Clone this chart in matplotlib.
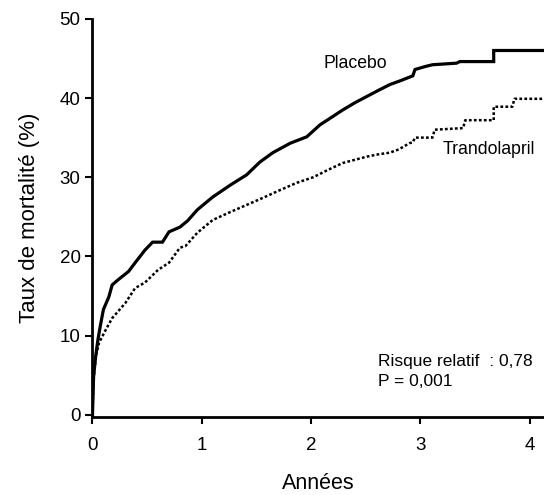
import matplotlib
matplotlib.use("Agg")
import matplotlib.pyplot as plt

# Data (years, cumulative mortality %)
placebo_t = [0, 0.005, 0.01, 0.03, 0.05, 0.07, 0.10, 0.15, 0.18, 0.23, 0.33, 0.39, 0.48,
             0.55, 0.64, 0.70, 0.80, 0.87, 0.96, 1.10, 1.26, 1.41, 1.53, 1.65, 1.81, 1.96,
             2.08, 2.18, 2.29, 2.40, 2.51, 2.62, 2.72, 2.82, 2.93, 2.95, 3.05, 3.11, 3.33,
             3.36, 3.67, 3.67, 4.13]
placebo_y = [0, 2.5, 4.8, 7.5, 9.5, 11.1, 13.3, 14.9, 16.4, 17.0, 18.1, 19.2, 20.8,
             21.8, 21.8, 23.1, 23.7, 24.5, 25.9, 27.5, 29.0, 30.3, 31.9, 33.1, 34.3, 35.1,
             36.6, 37.5, 38.5, 39.4, 40.2, 41.0, 41.7, 42.2, 42.8, 43.6, 44.0, 44.2, 44.4,
             44.6, 44.6, 46.0, 46.0]

trando_t = [0, 0.005, 0.01, 0.03, 0.06, 0.12, 0.18, 0.30, 0.39, 0.48, 0.60, 0.70, 0.80,
            0.85, 0.96, 1.10, 1.26, 1.41, 1.56, 1.72, 1.87, 2.02, 2.15, 2.29, 2.40, 2.51,
            2.62, 2.72, 2.80, 2.90, 2.93, 2.95, 3.11, 3.13, 3.39, 3.41, 3.67, 3.67, 3.84,
            3.86, 4.13]
trando_y = [0, 2.5, 4.5, 7.3, 9.1, 10.7, 12.2, 14.1, 16.0, 16.7, 18.3, 19.2, 21.1,
            21.3, 23.0, 24.6, 25.6, 26.5, 27.4, 28.4, 29.3, 30.0, 30.9, 31.8, 32.2, 32.6,
            32.9, 33.1, 33.5, 34.3, 34.4, 35.0, 35.0, 36.0, 36.2, 37.2, 37.2, 38.9, 38.9,
            39.9, 39.9]

x_ticks = [0, 1, 2, 3, 4]
y_ticks = [0, 10, 20, 30, 40, 50]

plt.rcParams['font.family'] = ['Liberation Sans', 'DejaVu Sans']

fig = plt.figure(figsize=(5.44, 4.95), dpi=100)
ax = fig.add_axes([0.169, 0.158, 0.831, 0.804])

ax.plot(placebo_t, placebo_y, color='black', lw=2.3, solid_joinstyle='miter')
ax.plot(trando_t, trando_y, color='black', lw=1.8, linestyle=(0, (1.1, 0.9)))

ax.set_xlim(-0.005, 4.13)
ax.set_ylim(-0.25, 50)
ax.set_xticks(x_ticks)
ax.set_yticks(y_ticks)
ax.tick_params(direction='out', length=5, width=1.5, labelsize=13.5, colors='black')
ax.tick_params(axis='x', pad=9.5)
for s in ['top', 'right']:
    ax.spines[s].set_visible(False)
for s in ['left', 'bottom']:
    ax.spines[s].set_linewidth(2)
ax.spines['left'].set_position(('data', 0))

ax.set_xlabel('Années', fontsize=15.5, labelpad=14)
ax.set_ylabel('Taux de mortalité (%)', fontsize=16, labelpad=14)

ax.text(2.11, 44.4, 'Placebo', fontsize=12.7, va='center', ha='left')
ax.text(3.20, 33.5, 'Trandolapril', fontsize=12.7, va='center', ha='left')
ax.text(2.61, 6.7, 'Risque relatif  : 0,78', fontsize=12.5, va='center', ha='left')
ax.text(2.61, 4.2, 'P = 0,001', fontsize=12.5, va='center', ha='left')

fig.savefig('out.png', dpi=100)
